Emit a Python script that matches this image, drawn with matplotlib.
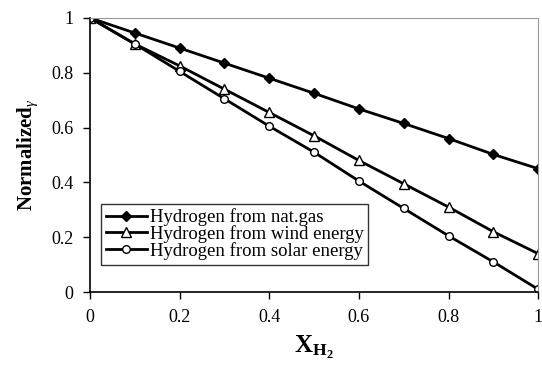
import numpy as np
import matplotlib.pyplot as plt

plt.rcParams['font.family'] = ['Liberation Serif', 'DejaVu Serif']
plt.rcParams['mathtext.fontset'] = 'custom'
plt.rcParams['mathtext.rm'] = 'Liberation Serif'
plt.rcParams['mathtext.it'] = 'Liberation Serif:italic'
plt.rcParams['mathtext.bf'] = 'Liberation Serif:bold'

# Данные
x_h2 = [0, 0.1, 0.2, 0.3, 0.4, 0.5, 0.6, 0.7, 0.8, 0.9, 1.0]
nat_gas = [1, 0.945, 0.89, 0.835, 0.78, 0.725, 0.668, 0.615, 0.56, 0.502, 0.45]
wind = [1, 0.905, 0.825, 0.74, 0.655, 0.57, 0.48, 0.395, 0.31, 0.22, 0.14]
solar = [1, 0.905, 0.805, 0.705, 0.605, 0.51, 0.405, 0.305, 0.205, 0.11, 0.01]
labels = ['Hydrogen from nat.gas', 'Hydrogen from wind energy',
          'Hydrogen from solar energy']

fig = plt.figure(figsize=(5.42, 3.73), dpi=100)
ax = fig.add_axes([0.166, 0.217, 0.827, 0.735])

ax.plot(x_h2, nat_gas, color='black', lw=2, marker='D', ms=5,
        mfc='black', mec='black', label=labels[0])
ax.plot(x_h2, wind, color='black', lw=2, marker='^', ms=6.5,
        mfc='white', mec='black', mew=1, label=labels[1])
ax.plot(x_h2, solar, color='black', lw=2, marker='o', ms=5.5,
        mfc='white', mec='black', mew=1, label=labels[2])

ax.set_xlim(0, 1)
ax.set_ylim(0, 1)
ax.set_xticks([0, 0.2, 0.4, 0.6, 0.8, 1])
ax.set_xticklabels(['0', '0.2', '0.4', '0.6', '0.8', '1'])
ax.set_yticks([0, 0.2, 0.4, 0.6, 0.8, 1])
ax.set_yticklabels(['0', '0.2', '0.4', '0.6', '0.8', '1'])
ax.tick_params(direction='out', length=5, width=1, labelsize=13, pad=7)

ax.spines['top'].set_color('#999999')
ax.spines['right'].set_color('#999999')
ax.spines['left'].set_linewidth(1.2)
ax.spines['bottom'].set_linewidth(1.2)
for s in ['top', 'right', 'left', 'bottom']:
    ax.spines[s].set_clip_on(False)

ax.set_ylabel(r'$\mathbf{Normalized}_{\gamma}$', fontsize=15, labelpad=8)
ax.set_xlabel(r'$\mathbf{X}_{\mathbf{H}_{\mathbf{2}}}$', fontsize=18, labelpad=6)

leg = ax.legend(loc='lower left', bbox_to_anchor=(0.025, 0.1), fontsize=13.5,
                frameon=True, fancybox=False, edgecolor='black',
                handlelength=2.2, handletextpad=0.15, labelspacing=-0.05,
                borderpad=0.25, borderaxespad=0)
leg.get_frame().set_linewidth(1)

fig.savefig('out.png', dpi=100)
